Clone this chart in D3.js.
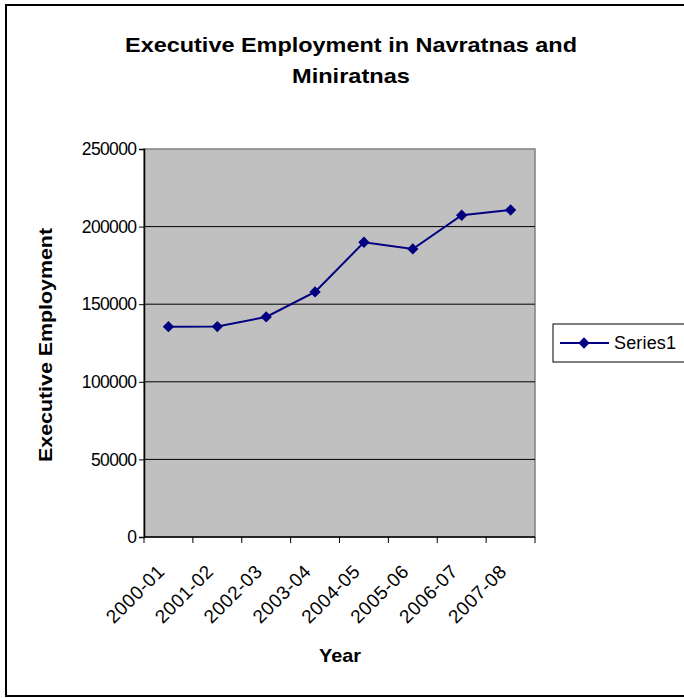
<!DOCTYPE html>
<html>
<head>
<meta charset="utf-8">
<script src="https://cdn.jsdelivr.net/npm/d3@7"></script>
<style>
  body { margin: 0; background: #fff; }
  svg text { font-family: "Liberation Sans", Arial, sans-serif; fill: #000; }
</style>
</head>
<body>
<svg id="chart" width="684" height="698"></svg>
<script>
'use strict';

// chart data
var years = ['2000-01', '2001-02', '2002-03', '2003-04',
             '2004-05', '2005-06', '2006-07', '2007-08'];
var employment = [135500, 135600, 141800, 157900, 189900, 185600, 207300, 210700];
var yTicks = [0, 50000, 100000, 150000, 200000, 250000];
var seriesName = 'Series1';

var svg = d3.select('#chart');

// outer chart frame
svg.append('rect')
  .attr('x', 6).attr('y', 5)
  .attr('width', 690).attr('height', 691)
  .attr('fill', '#fff')
  .attr('stroke', '#000')
  .attr('stroke-width', 2);

var plot = {left: 144, top: 149, right: 535, bottom: 537};

var x = d3.scaleBand()
  .domain(years)
  .range([plot.left, plot.right]);

var y = d3.scaleLinear()
  .domain([0, 250000])
  .range([plot.bottom, plot.top]);

// plot area background
svg.append('rect')
  .attr('x', plot.left).attr('y', plot.top)
  .attr('width', plot.right - plot.left)
  .attr('height', plot.bottom - plot.top)
  .attr('fill', '#c0c0c0')
  .attr('stroke', '#808080')
  .attr('stroke-width', 1.5);

// horizontal grid lines
svg.append('g')
  .selectAll('line')
  .data(yTicks.filter(function(d) { return d > 0 && d < 250000; }))
  .enter().append('line')
  .attr('x1', plot.left).attr('x2', plot.right)
  .attr('y1', function(d) { return y(d); })
  .attr('y2', function(d) { return y(d); })
  .attr('stroke', '#000')
  .attr('stroke-width', 1);

// y axis
var yAxis = svg.append('g')
  .attr('transform', 'translate(' + plot.left + ',0)')
  .call(d3.axisLeft(y).tickValues(yTicks).tickSize(5).tickPadding(2)
    .tickFormat(d3.format('d')));
yAxis.select('.domain').attr('stroke', '#000').attr('stroke-width', 1.5);
yAxis.selectAll('.tick line').attr('stroke', '#000');
yAxis.selectAll('text')
  .attr('textLength', function(d) { return String(d).length * 9.2; })
  .attr('lengthAdjust', 'spacing')
  .style('font-size', '17.5px')
  .style('font-family', '"Liberation Sans", Arial, sans-serif');

// x axis: ticks sit on the band edges
var xAxis = svg.append('g')
  .attr('transform', 'translate(0,' + plot.bottom + ')');
xAxis.append('line')
  .attr('x1', plot.left).attr('x2', plot.right)
  .attr('stroke', '#000').attr('stroke-width', 1.5);
xAxis.selectAll('.xtick')
  .data(years.concat(['end']))
  .enter().append('line')
  .attr('x1', function(d, i) {
    return i < years.length ? x(d) : plot.right;
  })
  .attr('x2', function(d, i) {
    return i < years.length ? x(d) : plot.right;
  })
  .attr('y1', 0).attr('y2', 6)
  .attr('stroke', '#000');
xAxis.selectAll('.xlabel')
  .data(years)
  .enter().append('text')
  .attr('text-anchor', 'end')
  .attr('transform', function(d) {
    return 'translate(' + (x(d) + x.bandwidth() / 2 - 3) + ',36) rotate(-45)';
  })
  .attr('textLength', 73)
  .attr('lengthAdjust', 'spacing')
  .style('font-size', '19px')
  .text(function(d) { return d; });

// series line and diamond markers
var cx = function(d, i) { return x(years[i]) + x.bandwidth() / 2; };
var line = d3.line()
  .x(cx)
  .y(function(d) { return y(d); });

svg.append('path')
  .datum(employment)
  .attr('d', line)
  .attr('fill', 'none')
  .attr('stroke', '#000080')
  .attr('stroke-width', 2);

var diamond = d3.symbol().type(d3.symbolSquare).size(64);
svg.append('g')
  .selectAll('path')
  .data(employment)
  .enter().append('path')
  .attr('d', diamond)
  .attr('transform', function(d, i) {
    return 'translate(' + cx(d, i) + ',' + y(d) + ') rotate(45)';
  })
  .attr('fill', '#000080');

// title
svg.append('text')
  .attr('text-anchor', 'middle')
  .attr('x', 351).attr('y', 52)
  .attr('textLength', 452)
  .attr('lengthAdjust', 'spacingAndGlyphs')
  .style('font-size', '21px')
  .style('font-weight', 'bold')
  .text('Executive Employment in Navratnas and');
svg.append('text')
  .attr('text-anchor', 'middle')
  .attr('x', 351).attr('y', 83)
  .attr('textLength', 118)
  .attr('lengthAdjust', 'spacingAndGlyphs')
  .style('font-size', '21px')
  .style('font-weight', 'bold')
  .text('Miniratnas');

// axis titles
svg.append('text')
  .attr('text-anchor', 'middle')
  .attr('transform', 'translate(52,345) rotate(-90)')
  .attr('textLength', 234)
  .attr('lengthAdjust', 'spacingAndGlyphs')
  .style('font-size', '19px')
  .style('font-weight', 'bold')
  .text('Executive Employment');

svg.append('text')
  .attr('text-anchor', 'middle')
  .attr('x', 340).attr('y', 662)
  .attr('textLength', 42)
  .attr('lengthAdjust', 'spacingAndGlyphs')
  .style('font-size', '19px')
  .style('font-weight', 'bold')
  .text('Year');

// legend
var legend = svg.append('g').attr('transform', 'translate(553,324)');
legend.append('rect')
  .attr('width', 140).attr('height', 38)
  .attr('fill', '#fff')
  .attr('stroke', '#000')
  .attr('stroke-width', 1);
legend.append('line')
  .attr('x1', 7).attr('x2', 56)
  .attr('y1', 19).attr('y2', 19)
  .attr('stroke', '#000080').attr('stroke-width', 2);
legend.append('path')
  .attr('d', diamond)
  .attr('transform', 'translate(31,19) rotate(45)')
  .attr('fill', '#000080');
legend.append('text')
  .attr('x', 61).attr('y', 25)
  .attr('textLength', 62)
  .attr('lengthAdjust', 'spacing')
  .style('font-size', '18px')
  .text(seriesName);
</script>
</body>
</html>
